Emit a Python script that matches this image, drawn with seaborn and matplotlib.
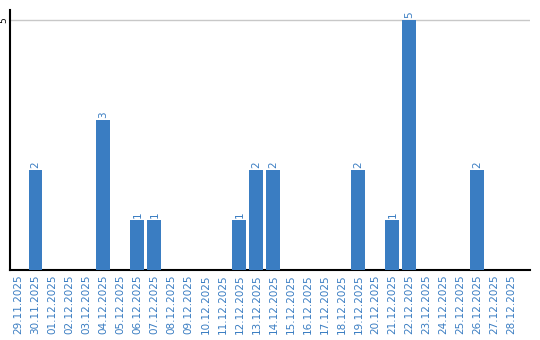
import matplotlib
matplotlib.use("Agg")
import matplotlib.pyplot as plt
import seaborn as sns
import pandas as pd

dates = ["29.11.2025", "30.11.2025", "01.12.2025", "02.12.2025", "03.12.2025",
         "04.12.2025", "05.12.2025", "06.12.2025", "07.12.2025", "08.12.2025",
         "09.12.2025", "10.12.2025", "11.12.2025", "12.12.2025", "13.12.2025",
         "14.12.2025", "15.12.2025", "16.12.2025", "17.12.2025", "18.12.2025",
         "19.12.2025", "20.12.2025", "21.12.2025", "22.12.2025", "23.12.2025",
         "24.12.2025", "25.12.2025", "26.12.2025", "27.12.2025", "28.12.2025"]
counts = [0, 2, 0, 0, 0, 3, 0, 1, 1, 0, 0, 0, 0, 1, 2, 2, 0, 0, 0, 0,
          2, 0, 1, 5, 0, 0, 0, 2, 0, 0]

df = pd.DataFrame({"date": dates, "count": counts})

sns.set_style("white")
plt.rcParams['font.family'] = ['DejaVu Sans']

blue = "#3a7dc2"
fig = plt.figure(figsize=(5.4, 3.4), dpi=100)
ax = fig.add_axes([10/540, 70/340, 520/540, 260/340])

sns.barplot(data=df, x="date", y="count", color=blue, width=0.82,
            saturation=1, ax=ax, zorder=3, linewidth=0)

ax.set_xlim(-0.5, 30.1)
ax.set_ylim(0, 5.2)
ax.set_yticks([5])
ax.set_yticklabels(["5"], rotation=90, va="center", fontsize=6.5, color="black")
ax.yaxis.grid(True, color="#c8c8c8", linewidth=1, zorder=0)
ax.tick_params(axis="y", length=0, pad=1)
ax.tick_params(axis="x", length=0, pad=3)
ax.set_xticks(range(len(dates)))
ax.set_xticklabels(dates, rotation=90, fontsize=7.5, color=blue)
ax.set_xlabel("")
ax.set_ylabel("")

for s in ["top", "right"]:
    ax.spines[s].set_visible(False)
for s in ["left", "bottom"]:
    ax.spines[s].set_color("black")
    ax.spines[s].set_linewidth(1.5)

for i, v in enumerate(counts):
    if v > 0:
        ax.text(i, v + 0.04, str(v), rotation=90, ha="center", va="bottom",
                fontsize=7.5, color=blue)

fig.savefig("out.png", dpi=100)
